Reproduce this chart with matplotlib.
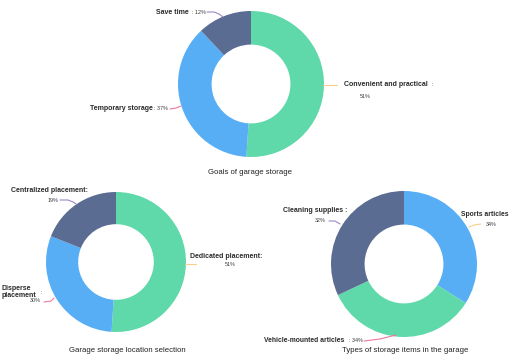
import matplotlib
matplotlib.use("Agg")
import matplotlib.pyplot as plt

# ---- data ----
goals_labels = ["Convenient and practical", "Temporary storage", "Save time"]
goals_values = [51, 37, 12]

location_labels = ["Dedicated placement", "Disperse\nplacement", "Centralized placement"]
location_values = [51, 30, 19]

items_labels = ["Sports articles", "Vehicle-mounted articles", "Cleaning supplies"]
items_values = [34, 34, 32]

titles = ["Goals of garage storage", "Garage storage location selection",
          "Types of storage items in the garage"]

GREEN = "#5fd8aa"
BLUE = "#58aef5"
DARK = "#5b6c93"
LINE_COLORS = ["#f8cf8a", "#ef78a0", "#9b87c6"]

W, H = 510, 359
fig = plt.figure(figsize=(W / 100, H / 100), dpi=100)
ax = fig.add_axes([0, 0, 1, 1])

def Y(y):
    return H - y

FONT = "Liberation Sans"

def donut(values, colors, cx, cy, r):
    ax.pie(values, colors=colors, startangle=90, counterclock=False,
           radius=r, center=(cx, Y(cy)),
           wedgeprops=dict(width=r * 0.46, edgecolor="none", linewidth=0))

donut(goals_values, [GREEN, BLUE, DARK], 251, 84, 73)
donut(location_values, [GREEN, BLUE, DARK], 116, 262, 70)
donut(items_values, [BLUE, GREEN, DARK], 404, 264, 73)

def leader(pts, color):
    xs = [p[0] for p in pts]
    ys = [Y(p[1]) for p in pts]
    ax.plot(xs, ys, color=color, lw=0.8, solid_capstyle="round")

NAME_FS = 5.05
PCT_FS = 3.9

def name(x, y, s, ha="left", fs=NAME_FS):
    ax.text(x, Y(y), s, fontsize=fs, fontweight="bold", family=FONT,
            color="#2a2a2a", ha=ha, va="center", linespacing=1.0)

def pct(x, y, s, ha="left"):
    ax.text(x, Y(y), s, fontsize=PCT_FS, family=FONT, color="#3a3a3a",
            ha=ha, va="center")

# Top chart labels
leader([(323, 85), (337, 85)], LINE_COLORS[0])
name(344, 85, goals_labels[0])
pct(432, 85, ":")
pct(360, 97, f"{goals_values[0]}%")

leader([(181, 106), (176, 108), (170, 109)], LINE_COLORS[1])
name(90, 109, goals_labels[1])
pct(154.5, 109, f": {goals_values[1]}%")

leader([(207, 12), (214, 12), (219, 14), (223, 17)], LINE_COLORS[2])
name(156, 12, goals_labels[2])
pct(192, 12, f": {goals_values[2]}%")

# Bottom-left chart labels
leader([(185, 264), (196, 264)], LINE_COLORS[0])
name(190, 256, "Dedicated placement:")
pct(225, 264, f"{location_values[0]}%")

leader([(54, 298), (51, 301), (44, 302)], LINE_COLORS[1])
ax.text(2, Y(292), location_labels[1], fontsize=NAME_FS, fontweight="bold",
        family=FONT, color="#2a2a2a", ha="left", va="center", linespacing=1.1)
pct(41, 293, ":")
pct(30, 301, f"{location_values[1]}%")

leader([(60, 200), (68, 200), (73, 202), (76, 204)], LINE_COLORS[2])
name(11, 190, "Centralized placement:")
pct(48, 200, f"{location_values[2]}%")

# Bottom-right chart labels
leader([(469, 227), (474, 225), (481, 224)], LINE_COLORS[0])
name(461, 215, items_labels[0], fs=4.9)
pct(486, 224, f"{items_values[0]}%")

leader([(364, 341), (380, 339), (396, 335)], LINE_COLORS[1])
name(264, 340, items_labels[1], fs=4.9)
pct(349, 340, f": {items_values[1]}%")

leader([(329, 221), (335, 221), (340, 224)], LINE_COLORS[2])
name(283, 210, items_labels[2] + " :")
pct(315, 221, f"{items_values[2]}%")

# Titles
ax.text(250, Y(172), titles[0], fontsize=5.6, family=FONT, color="#222222",
        ha="center", va="center")
ax.text(127, Y(350), titles[1], fontsize=5.6, family=FONT, color="#222222",
        ha="center", va="center")
ax.text(405, Y(350), titles[2], fontsize=5.6, family=FONT, color="#222222",
        ha="center", va="center")

ax.set_xlim(0, W)
ax.set_ylim(0, H)
ax.set_aspect("auto")
ax.axis("off")

fig.savefig("out.png", dpi=100, facecolor="white")
